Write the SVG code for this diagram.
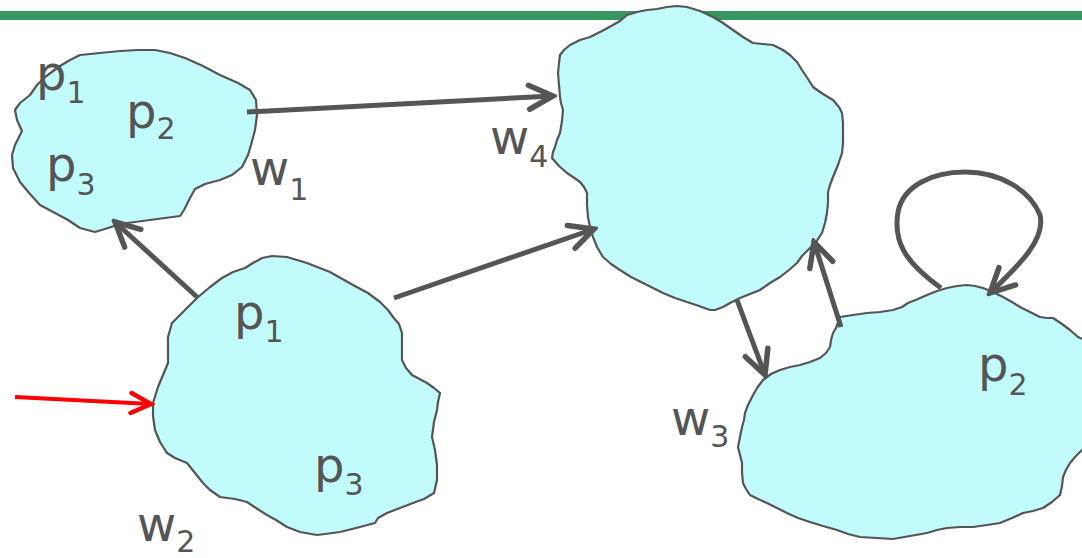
<svg xmlns="http://www.w3.org/2000/svg" width="1082" height="558" viewBox="0 0 1082 558">
<style>
.blob{fill:#c1fbfb;stroke:#555555;stroke-width:2.2;stroke-linejoin:round}
.lbl{font-family:"DejaVu Sans",Verdana,sans-serif;font-size:48px;fill:#555555}
.sub{font-size:30px}
.edge{fill:none;stroke:#555555;stroke-width:5}
.red{fill:none;stroke:#ff0000;stroke-width:4}
</style>
<defs>
<marker id="ah" markerUnits="userSpaceOnUse" viewBox="-30 -16 34 32" refX="0" refY="0" markerWidth="34" markerHeight="32" orient="auto">
<path d="M-24,-12 L0,0 L-24,12" fill="none" stroke="#555555" stroke-width="5.5" stroke-linecap="round"/>
</marker>
<marker id="ahr" markerUnits="userSpaceOnUse" viewBox="-30 -16 34 32" refX="0" refY="0" markerWidth="34" markerHeight="32" orient="auto">
<path d="M-20,-10 L0,0 L-20,10" fill="none" stroke="#ff0000" stroke-width="4.5" stroke-linecap="round"/>
</marker>
</defs>
<rect x="0" y="11" width="1082" height="9" fill="#35965f"/>
<g id="w1">
<path class="blob" d="M80,55 L100,53 L120,51 L138,50 L155,50 L170,53 L185,58 L203,66 L220,75 L238,83 L250,90 L256,100 L257,115 L255,130 L251,145 L248,155 L242,167 L232,175 L220,180 L205,184 L195,189 L190,198 L184,210 L180,216 L165,218 L150,220 L135,222 L120,224 L108,228 L95,232 L80,228 L68,220 L55,213 L40,205 L30,194 L20,182 L13,168 L12,155 L15,145 L22,131 L17,120 L15,110 L20,103 L30,95 L37,85 L45,77 L60,66 L70,60 Z"/>
<text class="lbl" x="36" y="90">p<tspan class="sub" dy="13">1</tspan></text>
<text class="lbl" x="126" y="128">p<tspan class="sub" dy="11">2</tspan></text>
<text class="lbl" x="46" y="181">p<tspan class="sub" dy="14">3</tspan></text>
<text class="lbl" x="250" y="185">w<tspan class="sub" dy="15">1</tspan></text>
</g>
<g id="w2">
<path class="blob" d="M197,298 L210,287 L222,278 L233,272 L245,268 L253,263 L262,258 L272,256 L287,257 L307,263 L330,272 L353,285 L368,293 L380,302 L388,310 L393,317 L399,324 L402,333 L402,348 L402,360 L406,368 L412,375 L427,383 L434,388 L440,393 L438,402 L437,410 L434,422 L432,437 L435,450 L437,465 L437,480 L434,493 L424,499 L413,503 L400,508 L387,513 L378,518 L375,523 L360,527 L340,532 L325,534 L317,535 L300,532 L287,527 L276,520 L267,515 L256,508 L247,502 L235,499 L220,497 L210,490 L203,483 L195,473 L187,463 L175,458 L167,453 L160,442 L155,430 L153,416 L153,403 L158,387 L163,375 L168,363 L168,350 L168,337 L172,323 L178,317 L183,312 Z"/>
<text class="lbl" x="234" y="329">p<tspan class="sub" dy="13">1</tspan></text>
<text class="lbl" x="314" y="482">p<tspan class="sub" dy="13">3</tspan></text>
<text class="lbl" x="137" y="541">w<tspan class="sub" dy="11">2</tspan></text>
</g>
<g id="w4">
<path class="blob" d="M627,15 L637,12 L647,10 L657,9 L667,7 L677,6 L687,7 L700,11 L713,17 L723,23 L733,30 L743,37 L753,43 L763,44 L773,45 L783,50 L790,55 L797,62 L802,70 L808,79 L813,87 L823,94 L833,100 L839,107 L842,113 L843,123 L843,133 L843,143 L842,153 L838,165 L833,177 L830,185 L828,192 L828,203 L827,213 L825,223 L822,233 L816,242 L808,250 L802,256 L797,263 L789,270 L780,277 L770,283 L760,290 L750,294 L740,298 L730,303 L723,307 L715,310 L710,310 L699,306 L687,302 L675,298 L663,293 L653,288 L643,283 L631,277 L620,270 L611,264 L603,257 L597,247 L593,237 L590,227 L588,217 L587,205 L587,193 L584,187 L580,182 L573,177 L567,173 L559,166 L552,158 L553,152 L555,147 L557,140 L560,133 L562,121 L563,110 L561,103 L560,97 L559,85 L558,73 L559,63 L560,55 L564,50 L570,45 L580,40 L590,37 L602,31 L613,25 L620,21 Z"/>
<text class="lbl" x="490" y="154">w<tspan class="sub" dy="13">4</tspan></text>
</g>
<g id="w3">
<path class="blob" d="M840,317 L853,315 L867,313 L880,312 L893,310 L902,307 L908,303 L918,299 L927,295 L937,291 L947,288 L957,286 L967,285 L975,286 L983,288 L993,292 L1003,297 L1012,302 L1020,307 L1030,312 L1040,317 L1047,318 L1053,318 L1062,324 L1070,330 L1078,337 L1095,345 L1095,448 L1082,450 L1076,456 L1070,463 L1066,470 L1063,477 L1062,486 L1060,495 L1052,502 L1043,508 L1033,511 L1023,513 L1012,518 L1000,523 L987,525 L973,527 L960,527 L947,528 L937,530 L927,533 L910,536 L893,539 L877,538 L860,537 L848,534 L837,530 L823,526 L810,522 L798,518 L787,513 L777,508 L767,503 L758,499 L750,495 L746,489 L743,483 L742,473 L742,463 L740,455 L738,447 L740,437 L742,427 L744,420 L745,413 L748,405 L752,397 L757,388 L763,380 L771,374 L780,370 L790,367 L800,365 L810,362 L820,358 L826,353 L830,347 L831,340 L833,333 L836,328 Z"/>
<text class="lbl" x="671" y="435">w<tspan class="sub" dy="12">3</tspan></text>
<text class="lbl" x="978" y="381">p<tspan class="sub" dy="14">2</tspan></text>
</g>
<g id="connectors">
<path class="edge" d="M247,112 L553,96" marker-end="url(#ah)"/>
<path class="edge" d="M197,297 L115,222" marker-end="url(#ah)"/>
<path class="edge" d="M394,298 L594,229" marker-end="url(#ah)"/>
<path class="edge" d="M737,300 L765,375" marker-end="url(#ah)"/>
<path class="edge" d="M841,327 L814,242" marker-end="url(#ah)"/>
<path class="edge" d="M941,288 C905,262 893,242 898,212 C903,186 932,172 965,172 C1000,172 1030,190 1040,215 C1046,240 1018,266 990,293" marker-end="url(#ah)"/>
<path class="red" d="M15,397 L151,404" marker-end="url(#ahr)"/>
</g>
</svg>
